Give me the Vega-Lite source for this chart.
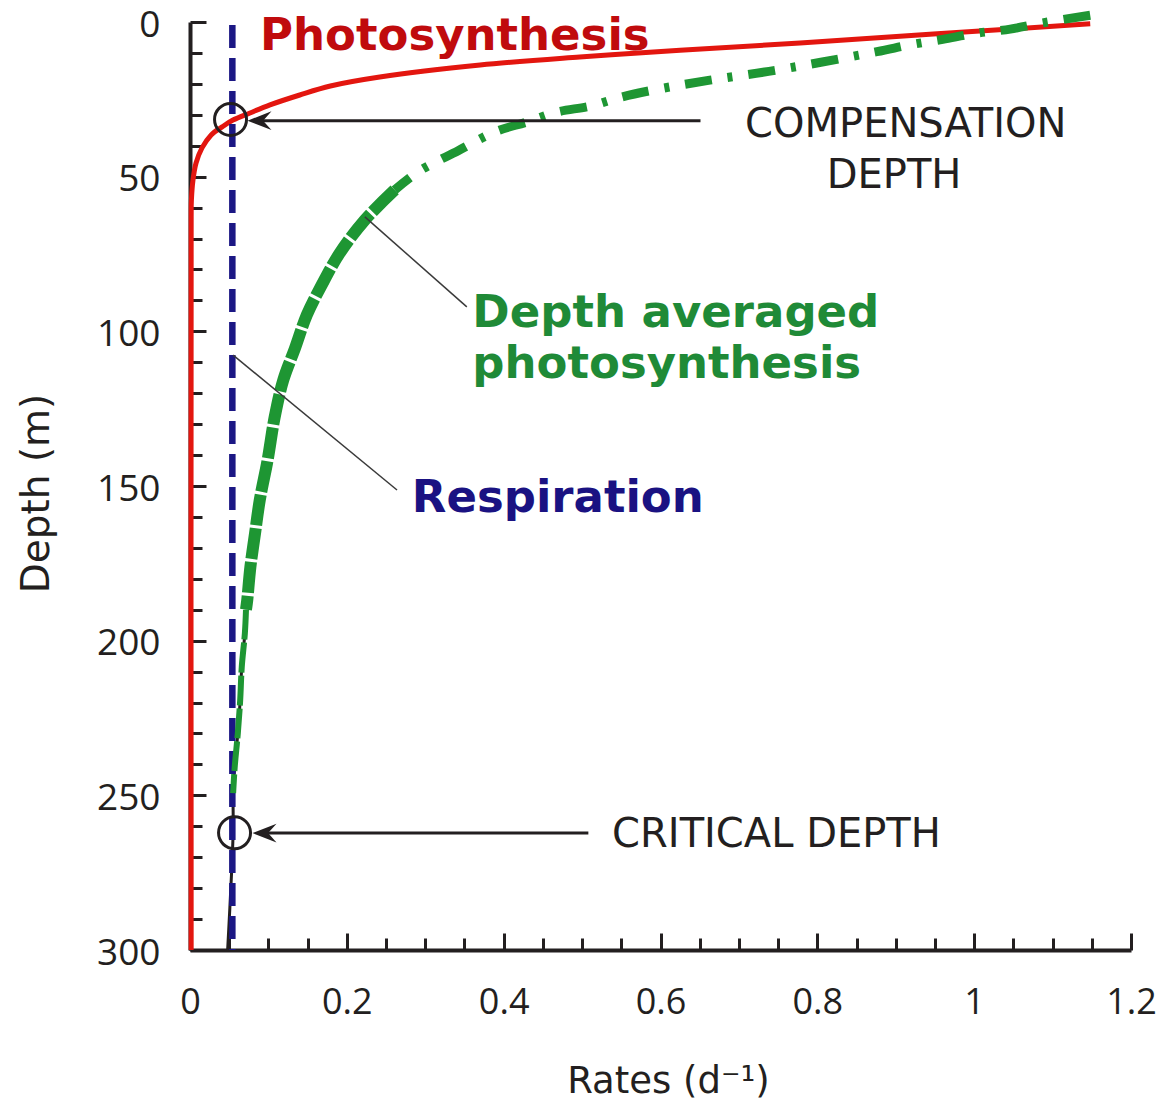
{
  "$schema": "https://vega.github.io/schema/vega-lite/v6.json",
  "width": 941,
  "height": 928,
  "autosize": "none",
  "padding": {"left": 190, "top": 22, "right": 26, "bottom": 151},
  "background": "white",
  "config": {"view": {"stroke": null}, "font": "DejaVu Sans"},
  "datasets": {
    "curves": [
      {"s": "photo", "rate": 1.148, "depth": 0.6},
      {"s": "photo", "rate": 0.948, "depth": 3.9},
      {"s": "photo", "rate": 0.778, "depth": 6.8},
      {"s": "photo", "rate": 0.625, "depth": 9.1},
      {"s": "photo", "rate": 0.497, "depth": 11.3},
      {"s": "photo", "rate": 0.370, "depth": 13.9},
      {"s": "photo", "rate": 0.242, "depth": 17.8},
      {"s": "photo", "rate": 0.179, "depth": 20.7},
      {"s": "photo", "rate": 0.140, "depth": 23.6},
      {"s": "photo", "rate": 0.102, "depth": 26.8},
      {"s": "photo", "rate": 0.0765, "depth": 29.4},
      {"s": "photo", "rate": 0.0548, "depth": 31.7},
      {"s": "photo", "rate": 0.041, "depth": 33.9},
      {"s": "photo", "rate": 0.027, "depth": 36.5},
      {"s": "photo", "rate": 0.0153, "depth": 40.7},
      {"s": "photo", "rate": 0.0077, "depth": 45.6},
      {"s": "photo", "rate": 0.0038, "depth": 51.1},
      {"s": "photo", "rate": 0.0018, "depth": 57.5},
      {"s": "photo", "rate": 0.0015, "depth": 63},
      {"s": "photo", "rate": 0.0015, "depth": 300},
      {"s": "black", "rate": 0.0714, "depth": 190},
      {"s": "black", "rate": 0.070, "depth": 197.5},
      {"s": "black", "rate": 0.066, "depth": 208.5},
      {"s": "black", "rate": 0.064, "depth": 219.2},
      {"s": "black", "rate": 0.061, "depth": 229.9},
      {"s": "black", "rate": 0.057, "depth": 240.9},
      {"s": "black", "rate": 0.055, "depth": 249.3},
      {"s": "black", "rate": 0.055, "depth": 261.9},
      {"s": "black", "rate": 0.048, "depth": 300},
      {"s": "resp", "rate": 0.054, "depth": 1},
      {"s": "resp", "rate": 0.054, "depth": 300},
      {"s": "avgA", "rate": 1.148, "depth": -2.2},
      {"s": "avgA", "rate": 1.087, "depth": 0.3},
      {"s": "avgA", "rate": 1.046, "depth": 2.3},
      {"s": "avgA", "rate": 1.004, "depth": 3.6},
      {"s": "avgA", "rate": 0.960, "depth": 5.6},
      {"s": "avgA", "rate": 0.918, "depth": 7.4},
      {"s": "avgA", "rate": 0.876, "depth": 9.6},
      {"s": "avgA", "rate": 0.749, "depth": 15.5},
      {"s": "avgA", "rate": 0.663, "depth": 18.8},
      {"s": "avgA", "rate": 0.595, "depth": 21.8},
      {"s": "avgA", "rate": 0.551, "depth": 24.2},
      {"s": "avgA", "rate": 0.510, "depth": 27.2},
      {"s": "avgA", "rate": 0.468, "depth": 29.1},
      {"s": "avgA", "rate": 0.430, "depth": 32.3},
      {"s": "avgA", "rate": 0.389, "depth": 35.5},
      {"s": "avgA", "rate": 0.342, "depth": 41.6},
      {"s": "avgA", "rate": 0.291, "depth": 48.4},
      {"s": "avgA", "rate": 0.261, "depth": 54.3},
      {"s": "avgB", "rate": 0.261, "depth": 54.3},
      {"s": "avgB", "rate": 0.223, "depth": 64.0},
      {"s": "avgB", "rate": 0.191, "depth": 74.7},
      {"s": "avgB", "rate": 0.168, "depth": 85.0},
      {"s": "avgB", "rate": 0.149, "depth": 94.7},
      {"s": "avgB", "rate": 0.134, "depth": 105.4},
      {"s": "avgB", "rate": 0.119, "depth": 115.7},
      {"s": "avgB", "rate": 0.108, "depth": 127.7},
      {"s": "avgB", "rate": 0.099, "depth": 141.6},
      {"s": "avgB", "rate": 0.089, "depth": 154.5},
      {"s": "avgB", "rate": 0.083, "depth": 165.2},
      {"s": "avgB", "rate": 0.077, "depth": 176.2},
      {"s": "avgB", "rate": 0.073, "depth": 186.9},
      {"s": "avgB", "rate": 0.0714, "depth": 190},
      {"s": "avgC", "rate": 0.0714, "depth": 190},
      {"s": "avgC", "rate": 0.070, "depth": 197.5},
      {"s": "avgC", "rate": 0.066, "depth": 208.5},
      {"s": "avgC", "rate": 0.064, "depth": 219.2},
      {"s": "avgC", "rate": 0.061, "depth": 229.9},
      {"s": "avgC", "rate": 0.057, "depth": 240.9},
      {"s": "avgC", "rate": 0.055, "depth": 249.3}
    ]
  },
  "encoding": {
    "x": {
      "field": "rate", "type": "quantitative",
      "scale": {"domain": [0, 1.2], "nice": false, "zero": false},
      "axis": {
        "title": "Rates (d⁻¹)",
        "values": [0, 0.05, 0.1, 0.15, 0.2, 0.25, 0.3, 0.35, 0.4, 0.45, 0.5, 0.55, 0.6, 0.65, 0.7, 0.75, 0.8, 0.85, 0.9, 0.95, 1, 1.05, 1.1, 1.15, 1.2],
        "labelExpr": "round(datum.value*100) % 20 === 0 ? format(datum.value, '~g') : ''",
        "tickSize": {"condition": {"test": "round(datum.value*100) % 20 === 0", "value": -17}, "value": -12},
        "tickWidth": 3, "tickColor": "#231f20",
        "domainColor": "#231f20", "domainWidth": 4,
        "grid": false,
        "labelFont": "Open Sans", "labelFontSize": 36, "labelColor": "#231f20",
        "labelBaseline": "alphabetic", "labelPadding": 80,
        "labelFlush": false, "labelOverlap": false,
        "titleFont": "DejaVu Sans", "titleFontSize": 37, "titleFontWeight": "normal", "titleColor": "#231f20",
        "titleX": 478, "titleY": 142, "titleBaseline": "alphabetic", "titleAlign": "center"
      }
    },
    "y": {
      "field": "depth", "type": "quantitative",
      "scale": {"domain": [0, 300], "reverse": true, "nice": false, "zero": false},
      "axis": {
        "title": "Depth (m)",
        "values": [0, 10, 20, 30, 40, 50, 60, 70, 80, 90, 100, 110, 120, 130, 140, 150, 160, 170, 180, 190, 200, 210, 220, 230, 240, 250, 260, 270, 280, 290, 300],
        "labelExpr": "datum.value % 50 === 0 ? format(datum.value, 'd') : ''",
        "tickSize": {"condition": {"test": "datum.value % 50 === 0", "value": -16}, "value": -12},
        "tickWidth": 3, "tickColor": "#231f20",
        "domainColor": "#231f20", "domainWidth": 4,
        "grid": false,
        "labelFont": "Open Sans", "labelFontSize": 37, "labelColor": "#231f20",
        "labelPadding": 46, "labelBaseline": "middle", "labelOffset": 3,
        "labelFlush": false, "labelOverlap": false,
        "titleFont": "DejaVu Sans", "titleFontSize": 39, "titleFontWeight": "normal", "titleColor": "#231f20",
        "titleX": -142, "titleY": 471, "titleAngle": 270, "titleBaseline": "alphabetic", "titleAlign": "center"
      }
    }
  },
  "layer": [
    {
      "data": {"name": "curves"},
      "transform": [{"filter": "datum.s === 'photo'"}],
      "mark": {"type": "line", "color": "#e3160f", "strokeWidth": 5, "interpolate": "catmull-rom"},
      "encoding": {"order": {"field": "depth", "type": "quantitative"}}
    },
    {
      "data": {"name": "curves"},
      "transform": [{"filter": "datum.s === 'black'"}],
      "mark": {"type": "line", "color": "#231f20", "strokeWidth": 3, "interpolate": "catmull-rom"},
      "encoding": {"order": {"field": "depth", "type": "quantitative"}}
    },
    {
      "data": {"name": "curves"},
      "transform": [{"filter": "datum.s === 'resp'"}],
      "mark": {"type": "line", "color": "#1b1784", "strokeWidth": 6.5, "strokeDash": [23, 10]},
      "encoding": {"order": {"field": "depth", "type": "quantitative"}}
    },
    {
      "data": {"name": "curves"},
      "transform": [{"filter": "datum.s === 'avgA'"}],
      "mark": {"type": "line", "color": "#1e9633", "strokeWidth": 9, "strokeDash": [27, 16, 5, 16], "interpolate": "catmull-rom"},
      "encoding": {"order": {"field": "depth", "type": "quantitative"}}
    },
    {
      "data": {"name": "curves"},
      "transform": [{"filter": "datum.s === 'avgB'"}],
      "mark": {"type": "line", "color": "#1e9633", "strokeWidth": 12, "strokeDash": [31, 3], "interpolate": "catmull-rom"},
      "encoding": {"order": {"field": "depth", "type": "quantitative"}}
    },
    {
      "data": {"name": "curves"},
      "transform": [{"filter": "datum.s === 'avgC'"}],
      "mark": {"type": "line", "color": "#1e9633", "strokeWidth": 6, "strokeDash": [30, 3], "interpolate": "catmull-rom"},
      "encoding": {"order": {"field": "depth", "type": "quantitative"}}
    },
    {
      "data": {"values": [
        {"rate": 0.0886, "rate2": 0.651, "depth": 31.9},
        {"rate": 0.095, "rate2": 0.508, "depth": 262.2}
      ]},
      "mark": {"type": "rule", "color": "#231f20", "strokeWidth": 3},
      "encoding": {"x2": {"field": "rate2"}}
    },
    {
      "data": {"values": [
        {"rate": 0.223, "depth": 63, "rate2": 0.353, "depth2": 92.1},
        {"rate": 0.055, "depth": 107.7, "rate2": 0.264, "depth2": 151.3}
      ]},
      "mark": {"type": "rule", "color": "#3a3a3a", "strokeWidth": 1.5},
      "encoding": {"x2": {"field": "rate2"}, "y2": {"field": "depth2"}}
    },
    {
      "data": {"values": [
        {"rate": 0.0517, "depth": 31.5},
        {"rate": 0.0568, "depth": 262.1}
      ]},
      "mark": {"type": "point", "shape": "circle", "filled": false, "size": 1024, "stroke": "#231f20", "strokeWidth": 3, "opacity": 1}
    },
    {
      "data": {"values": [
        {"rate": 0.0886, "depth": 31.9},
        {"rate": 0.095, "depth": 262.2}
      ]},
      "mark": {"type": "point", "shape": "M-1,0L1,-0.78L0.3,0L1,0.78Z", "filled": true, "size": 576, "color": "#231f20", "opacity": 1}
    },
    {
      "data": {"values": [{"rate": 0.0893, "depth": 9.05, "label": "Photosynthesis"}]},
      "mark": {"type": "text", "font": "DejaVu Sans", "fontWeight": "bold", "fontSize": 45, "align": "left", "baseline": "alphabetic", "color": "#c00b0d"},
      "encoding": {"text": {"field": "label"}}
    },
    {
      "data": {"values": [
        {"rate": 0.360, "depth": 98.5, "label": "Depth averaged"},
        {"rate": 0.360, "depth": 115.2, "label": "photosynthesis"}
      ]},
      "mark": {"type": "text", "font": "DejaVu Sans", "fontWeight": "bold", "fontSize": 45, "align": "left", "baseline": "alphabetic", "color": "#1f8a37"},
      "encoding": {"text": {"field": "label"}}
    },
    {
      "data": {"values": [{"rate": 0.2828, "depth": 158.3, "label": "Respiration"}]},
      "mark": {"type": "text", "font": "DejaVu Sans", "fontWeight": "bold", "fontSize": 45, "align": "left", "baseline": "alphabetic", "color": "#1a1282"},
      "encoding": {"text": {"field": "label"}}
    },
    {
      "data": {"values": [
        {"rate": 0.7079, "depth": 37.1, "label": "COMPENSATION"},
        {"rate": 0.812, "depth": 53.8, "label": "DEPTH"},
        {"rate": 0.5383, "depth": 266.7, "label": "CRITICAL DEPTH"}
      ]},
      "mark": {"type": "text", "font": "DejaVu Sans", "fontWeight": "normal", "fontSize": 40, "align": "left", "baseline": "alphabetic", "color": "#231f20"},
      "encoding": {"text": {"field": "label"}}
    }
  ]
}
